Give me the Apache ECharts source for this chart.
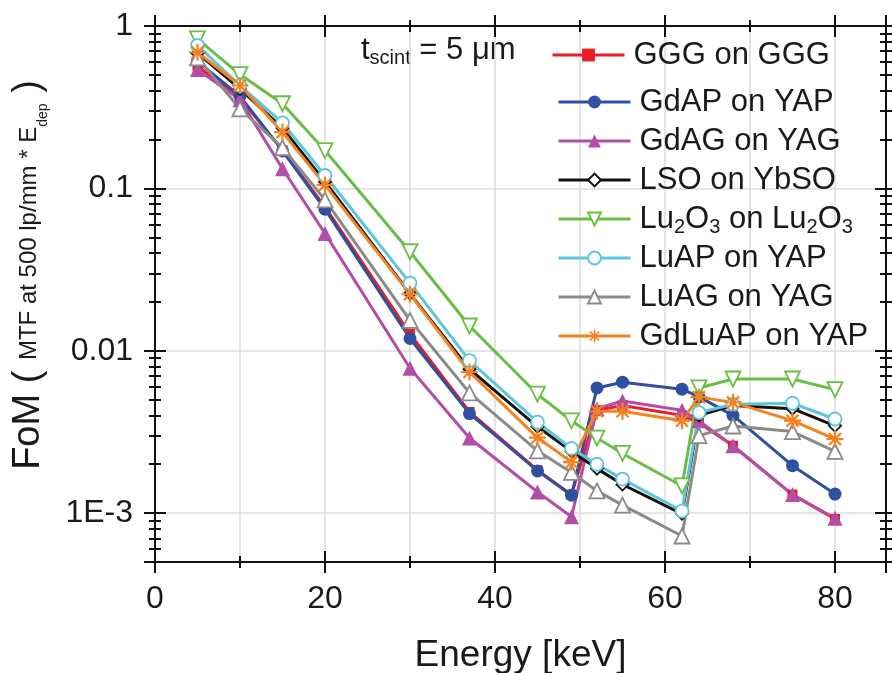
<!DOCTYPE html>
<html><head><meta charset="utf-8">
<script src="https://cdn.jsdelivr.net/npm/echarts@6/dist/echarts.min.js"></script>
<style>html,body{margin:0;padding:0;background:#fff}#c{width:892px;height:673px}</style>
</head><body><div id="c"></div>
<script>
// ---- data ----
const energies = [5, 10, 15, 20, 30, 37, 45, 49, 52, 55, 62, 64, 68, 75, 80];
const seriesNames = ['GGG on GGG', 'GdAP on YAP', 'GdAG on YAG', 'LSO on YbSO', 'Lu2O3 on Lu2O3', 'LuAP on YAP', 'LuAG on YAG', 'GdLuAP on YAP'];
const ggg    = [0.565, 0.36, 0.172, 0.077, 0.0127, 0.0042, 0.00184, 0.00130, 0.0043, 0.0046, 0.0040, 0.0036, 0.0026, 0.00130, 0.00092];
const gdap   = [0.606, 0.37, 0.170, 0.0745, 0.0119, 0.0041, 0.00182, 0.00129, 0.0059, 0.0064, 0.0058, 0.0052, 0.0040, 0.00196, 0.00131];
const gdag   = [0.539, 0.352, 0.132, 0.0528, 0.0078, 0.0029, 0.00135, 0.00095, 0.0044, 0.0049, 0.0043, 0.0037, 0.0026, 0.00130, 0.00093];
const lso    = [0.68, 0.41, 0.235, 0.11, 0.0225, 0.0077, 0.0034, 0.0024, 0.00188, 0.0015, 0.00099, 0.0040, 0.0046, 0.0044, 0.00345];
const lu2o3  = [0.833, 0.502, 0.332, 0.171, 0.0407, 0.0142, 0.0054, 0.0037, 0.0029, 0.00233, 0.00147, 0.0059, 0.0067, 0.0067, 0.00576];
const luap   = [0.76, 0.43, 0.253, 0.12, 0.0261, 0.0087, 0.00363, 0.0025, 0.0020, 0.00162, 0.00103, 0.00416, 0.00468, 0.00475, 0.0038];
const luag   = [0.636, 0.309, 0.178, 0.085, 0.0154, 0.0055, 0.00242, 0.00178, 0.00137, 0.00112, 0.000723, 0.0030, 0.00344, 0.00318, 0.0024];
const gdluap = [0.689, 0.43, 0.222, 0.105, 0.0223, 0.0074, 0.00292, 0.00206, 0.00424, 0.00424, 0.00371, 0.00518, 0.00481, 0.00371, 0.00286];
const xTickLabels = ['0', '20', '40', '60', '80'];
const yTickLabels = {'-3': '1E-3', '-2': '0.01', '-1': '0.1', '0': '1'};

// ---- styling ----
const FONT = '"Liberation Sans", Arial, Helvetica, sans-serif';
const INK = '#1a1a1a';
const AXL = {color: '#111', width: 2};
const ASTER = 'path://M8.7 0L11.3 0L11.3 20L8.7 20Z M0 8.7L20 8.7L20 11.3L0 11.3Z M3.85 2.01L17.99 16.15L16.15 17.99L2.01 3.85Z M17.99 3.85L3.85 17.99L2.01 16.15L16.15 2.01Z';

function xAx(pos, interval, len, inside, extra) {
  return Object.assign({
    type: 'value', gridIndex: 0, min: 0, max: 86, interval: interval, position: pos,
    axisLine: {show: true, onZero: false, lineStyle: AXL},
    axisTick: {show: true, inside: inside, length: len, lineStyle: AXL},
    axisLabel: {show: false}, splitLine: {show: false}
  }, extra || {});
}
function yAx(pos, inside, extra) {
  return Object.assign({
    type: 'log', logBase: 10, gridIndex: 0, min: 5e-4, max: 1, position: pos,
    axisLine: {show: true, onZero: false, lineStyle: AXL},
    axisTick: {show: true, inside: inside, length: 11, lineStyle: AXL},
    minorTick: {show: true, splitNumber: 9, length: 6, lineStyle: AXL},
    axisLabel: {show: false}, splitLine: {show: false}
  }, extra || {});
}

const xAxes = [
  xAx('bottom', 20, 11, false, {
    axisLabel: {show: true, fontSize: 32, fontFamily: FONT, color: INK, margin: 21,
      formatter: v => (v % 20 === 0 && xTickLabels.indexOf(String(v)) >= 0) ? String(v) : ''},
    name: 'Energy [keV]', nameLocation: 'middle', nameGap: 75,
    nameTextStyle: {fontSize: 37, fontFamily: FONT, color: INK}
  }),
  xAx('bottom', 20, 11, true),
  xAx('bottom', 10, 6, false, {splitLine: {show: true, lineStyle: {color: '#dcdcdc', width: 1.5}}}),
  xAx('bottom', 10, 6, true),
  xAx('top', 20, 11, false), xAx('top', 20, 11, true),
  xAx('top', 10, 6, false), xAx('top', 10, 6, true)
];
const yAxes = [
  yAx('left', false, {
    axisLabel: {show: true, fontSize: 32, fontFamily: FONT, color: INK, margin: 22,
      formatter: v => {
        const l = Math.log10(v), e = Math.round(l);
        if (Math.abs(l - e) > 1e-6) return '';
        return yTickLabels[String(e)] || '';
      }},
    splitLine: {show: true, lineStyle: {color: '#dcdcdc', width: 1.5}}
  }),
  yAx('left', true), yAx('right', false), yAx('right', true)
];

function S(name, vals, color, symbol, size, filled, extra) {
  return Object.assign({
    name: name, type: 'line', xAxisIndex: 0, yAxisIndex: 0,
    data: energies.map((e, i) => [e, vals[i]]),
    color: color, symbol: symbol, symbolSize: size, showSymbol: true,
    lineStyle: {width: 3, color: color},
    itemStyle: filled ? {color: color} : {color: '#fff', borderColor: color, borderWidth: 1.8},
    emphasis: {disabled: true}, animation: false
  }, extra || {});
}

const series = [
  S(seriesNames[0], ggg, '#ED1C24', 'rect', 10, true),
  S(seriesNames[1], gdap, '#2F4FA2', 'circle', 13, true),
  S(seriesNames[2], gdag, '#B24EA6', 'triangle', 15, true),
  S(seriesNames[3], lso, '#111111', 'diamond', 12, false),
  S(seriesNames[4], lu2o3, '#6BBE45', 'triangle', 15, false, {symbolRotate: 180}),
  S(seriesNames[5], luap, '#5EC6DC', 'circle', 13, false),
  S(seriesNames[6], luag, '#8A8A8A', 'triangle', 15, false),
  S(seriesNames[7], gdluap, '#F5821F', ASTER, 17, true)
];

const legendLabel = name => name === 'Lu2O3 on Lu2O3'
  ? '{n|Lu}{s|2}{n|O}{s|3}{n| on Lu}{s|2}{n|O}{s|3}' : '{n|' + name + '}';
const legendCommon = {
  padding: 0, itemWidth: 72, itemHeight: 16, selectedMode: false,
  formatter: legendLabel,
  lineStyle: {width: 3},
  textStyle: {fontSize: 31, fontFamily: FONT, color: INK, lineHeight: 36, padding: [0, 0, 0, 4],
    rich: {
      n: {fontSize: 31, fontFamily: FONT, color: INK, lineHeight: 36},
      s: {fontSize: 20, fontFamily: FONT, color: INK, lineHeight: 16, verticalAlign: 'bottom'}
    }}
};

const option = {
  backgroundColor: '#fff',
  animation: false,
  grid: {left: 155, top: 26, right: 6, bottom: 111, containLabel: false, outerBoundsMode: 'none'},
  xAxis: xAxes,
  yAxis: yAxes,
  legend: [
    Object.assign({data: [seriesNames[0]], left: 551, top: 37, orient: 'vertical'}, legendCommon),
    Object.assign({data: seriesNames.slice(1), left: 557, top: 84, orient: 'vertical', itemGap: 3}, legendCommon)
  ],
  graphic: [
    {type: 'text', left: 361, top: 35, silent: true,
     style: {text: '{n|t}{s|scint}{n| = 5 μm}', fontFamily: FONT,
       rich: {n: {fontSize: 31, fontFamily: FONT, fill: INK, lineHeight: 36},
              s: {fontSize: 20, fontFamily: FONT, fill: INK, lineHeight: 14, verticalAlign: 'bottom'}}}},
    {type: 'text', x: 29, y: 275, rotation: Math.PI / 2, silent: true,
     style: {text: '{F|FoM ( }{m|MTF at 500 lp/mm * E}{d|dep}{F| )}', align: 'center', verticalAlign: 'middle',
       rich: {F: {fontSize: 38, fontFamily: FONT, fill: INK, lineHeight: 42},
              m: {fontSize: 24, fontFamily: FONT, fill: INK, lineHeight: 28},
              d: {fontSize: 14, fontFamily: FONT, fill: INK, lineHeight: 12, verticalAlign: 'bottom'}}}}
  ],
  series: series
};
const chart = echarts.init(document.getElementById('c'), null, {renderer: 'canvas'});
chart.setOption(option);
</script></body></html>
